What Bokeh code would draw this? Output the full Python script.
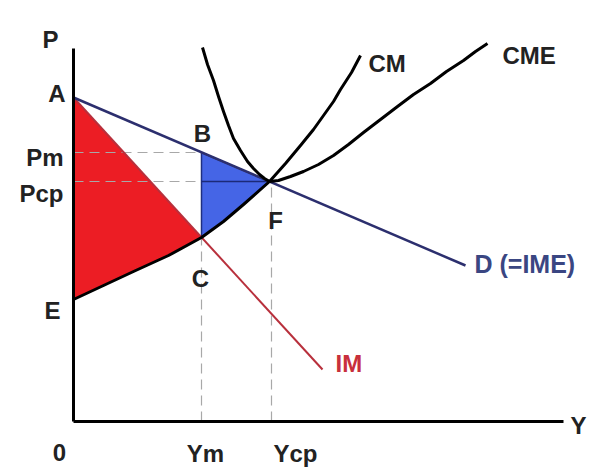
from bokeh.plotting import figure
from bokeh.embed import file_html
from bokeh.resources import INLINE
from bokeh.core.properties import value

# ---- data (diagram units: quantity Y on x, price P on y) ----
cm_x = [0, 30, 60, 95, 128, 150, 170, 196, 212, 227, 240, 250, 260, 267, 278, 287]
cm_y = [122, 136, 150, 166, 184, 200, 217, 240, 258, 276, 292, 306, 320, 332, 349, 366]

cme_x = [129, 134, 140, 145, 150, 155, 160, 167, 174, 180, 186, 191, 196, 205, 217, 230, 245, 260, 275, 290, 307, 324, 340, 357, 373, 390, 402, 414]
cme_y = [374, 357, 341, 325, 310, 296, 283, 271, 260, 253, 247, 243, 240, 241, 245, 250, 257, 266, 277, 289, 302, 315, 327, 338, 350, 361, 370, 378]

d_x = [0, 392]
d_y = [324, 156]

im_x = [0, 249]
im_y = [324, 52]

A = (0, 324)
E = (0, 122)
Pm, Pcp = 269, 240
Ym, Ycp = 128, 196

axis_p_top = 373
axis_y_end = 490

# ---- figure ----
p = figure(width=592, height=468, x_range=(-73, 519), y_range=(-47, 421),
           output_backend="svg", toolbar_location=None, min_border=0)
p.axis.visible = False
p.grid.visible = False
p.outline_line_color = None
p.background_fill_color = "white"

# red area A - C - E (IM above, CM below)
red_x = [A[0], Ym] + [x for x in reversed(cm_x) if x < Ym] + [E[0]]
red_y = [A[1], 184] + [y for x, y in zip(reversed(cm_x), reversed(cm_y)) if x < Ym] + [E[1]]
p.patch(red_x, red_y, fill_color="#ec1d24", line_color="#d0202a", line_width=1)

# blue area B - F - C
bx = [Ym, Ycp] + [x for x in reversed(cm_x) if Ym <= x < Ycp]
by = [Pm, Pcp] + [y for x, y in zip(reversed(cm_x), reversed(cm_y)) if Ym <= x < Ycp]
p.patch(bx, by, fill_color="#4565e6", line_color="#1f2f80", line_width=1.5)

# dashed guide lines
dash_col = "#a8a8a8"
p.line([0, Ym], [Pm, Pm], line_color=dash_col, line_dash="10 6", line_width=1.2)
p.line([0, Ym], [Pcp, Pcp], line_color=dash_col, line_dash="10 6", line_width=1.2)
p.line([Ym, Ycp], [Pcp, Pcp], line_color="#1c2a78", line_width=1.5)
p.line([Ym, Ym], [0, 184], line_color=dash_col, line_dash="10 6", line_width=1.2)
p.line([Ycp + 2, Ycp + 2], [0, Pcp], line_color=dash_col, line_dash="10 6", line_width=1.2)

# IM line
p.line(im_x, im_y, line_color="#b8303c", line_width=2)
# demand line
p.line(d_x, d_y, line_color="#2c2f6e", line_width=2.5)
# CM and CME curves
p.line(cm_x, cm_y, line_color="black", line_width=3, line_join="round")
p.line(cme_x, cme_y, line_color="black", line_width=3, line_join="round")

# axes
p.line([0, 0], [0, axis_p_top], line_color="black", line_width=3)
p.line([0, axis_y_end], [0, 0], line_color="black", line_width=3)

# labels
font = value("Liberation Sans")
dark = "#222222"

def lab(x, y, t, align="left", color=dark, size="24px"):
    p.text(x=[x], y=[y], text=[t], text_align=align, text_baseline="alphabetic",
           text_font=font, text_font_style="bold", text_font_size=size,
           text_color=color)

lab(-31, 382, "P")
lab(-8, 328, "A", "right")
lab(-10, 264, "Pm", "right")
lab(-10, 228, "Pcp", "right")
lab(-13, 111, "E", "right")
lab(-14, -31, "0", "center")
lab(129, 288, "B", "center")
lab(127, 143, "C", "center")
lab(202, 201, "F", "center")
lab(132, -32, "Ym", "center")
lab(222, -32, "Ycp", "center")
lab(497, -4, "Y")
lab(262, 58, "IM", color="#c8303c")
lab(295, 358, "CM")
lab(429, 366, "CME")
lab(401, 158, "D (=IME)", color="#3a4682", size="25px")

open("out.html", "w").write(file_html(p, INLINE))
